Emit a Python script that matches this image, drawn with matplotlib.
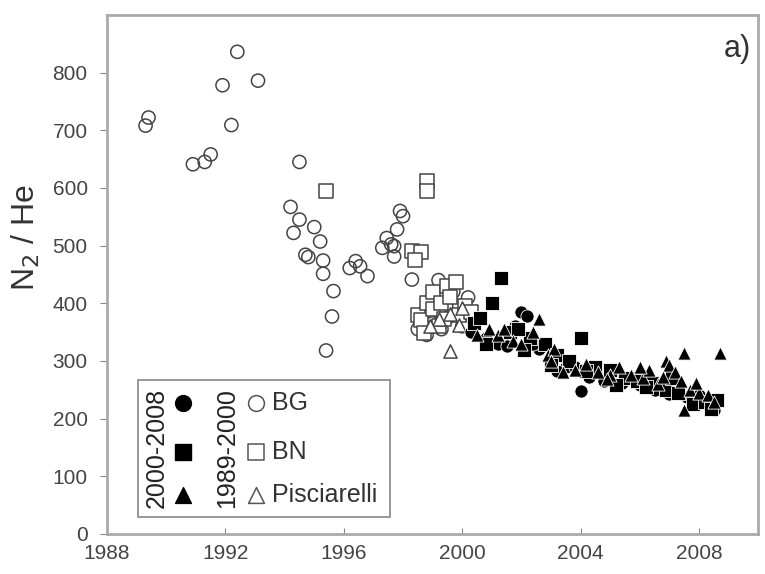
import matplotlib.pyplot as plt
from matplotlib.patches import Rectangle

plt.rcParams['font.family'] = ['Liberation Sans', 'DejaVu Sans']

# 1989-2000 (open markers)
bg_old_x = [1989.3, 1989.4, 1990.9, 1991.3, 1991.5, 1991.9, 1992.2, 1992.4, 1993.1,
            1994.2, 1994.5, 1994.3, 1994.5, 1995.0, 1995.2, 1994.7, 1994.8, 1995.3,
            1995.3, 1995.65, 1995.6, 1995.4, 1996.2, 1996.55, 1996.8, 1996.4,
            1997.9, 1998.0, 1997.8, 1997.45, 1997.3, 1997.7, 1997.7, 1997.6, 1998.3,
            1998.5, 1998.8, 1999.2, 1999.5, 1999.7, 1999.0, 2000.0, 1999.3, 2000.2,
            1998.9, 1999.9]
bg_old_y = [708, 722, 641, 645, 658, 778, 709, 836, 786,
            567, 645, 522, 545, 532, 507, 484, 480, 474,
            451, 421, 377, 318, 461, 464, 447, 473,
            560, 551, 528, 513, 496, 499, 481, 502, 441,
            355, 345, 440, 375, 420, 365, 360, 355, 410,
            380, 395]
bn_old_x = [1995.4, 1998.8, 1998.8, 1998.3, 1998.6, 1998.4,
            1998.5, 1998.6, 1998.8, 1999.0, 1999.0, 1999.2, 1999.3, 1999.5,
            1999.6, 1999.8, 1999.9, 2000.1, 2000.3, 1998.7, 1999.4]
bn_old_y = [595, 612, 595, 490, 488, 475,
            380, 370, 400, 420, 390, 360, 400, 430,
            410, 437, 380, 395, 385, 348, 372]
pis_old_x = [1999.6, 1999.2, 1999.6, 2000.0, 1999.9, 1998.9]
pis_old_y = [317, 372, 382, 392, 362, 360]

# 2000-2008 (filled markers)
bg_new_x = [2000.3, 2000.8, 2001.2, 2001.5, 2002.0, 2002.2, 2002.6, 2003.0, 2003.5,
            2004.0, 2004.3, 2004.8, 2005.4, 2006.0, 2006.5, 2007.0, 2007.6, 2008.2,
            2008.5, 2001.8, 2003.2, 2005.0, 2006.8, 2008.0, 2002.4, 2003.8, 2005.8]
bg_new_y = [350, 340, 330, 325, 385, 378, 320, 300, 290,
            247, 272, 265, 262, 258, 250, 242, 238, 230,
            215, 360, 282, 280, 262, 240, 330, 290, 270]
bn_new_x = [2000.4, 2000.6, 2001.0, 2001.3, 2001.6, 2002.3, 2002.8, 2003.2, 2003.6,
            2004.0, 2004.5, 2005.0, 2005.5, 2005.9, 2006.4, 2006.9, 2007.3, 2007.8,
            2008.2, 2008.4, 2008.6, 2003.0, 2005.2, 2007.1, 2001.9, 2004.2, 2006.2,
            2002.1, 2000.8]
bn_new_y = [365, 375, 400, 444, 350, 340, 330, 310, 300,
            339, 290, 285, 270, 265, 262, 250, 245, 225,
            228, 217, 232, 292, 258, 270, 355, 282, 255,
            318, 330]
pis_new_x = [2000.5, 2000.9, 2001.2, 2001.7, 2002.0, 2002.4, 2002.6, 2002.9, 2003.1,
             2003.4, 2003.8, 2004.2, 2004.6, 2005.0, 2005.3, 2005.7, 2006.1, 2006.3,
             2006.6, 2006.9, 2007.0, 2007.2, 2007.4, 2007.5, 2007.7, 2008.0, 2008.3,
             2008.7, 2007.5, 2001.4, 2003.0, 2004.9, 2006.0, 2006.8, 2007.9, 2008.5]
pis_new_y = [345, 355, 345, 335, 330, 350, 372, 310, 320,
             280, 285, 295, 280, 275, 290, 275, 270, 285,
             260, 300, 292, 280, 265, 215, 250, 245, 240,
             314, 314, 355, 300, 268, 290, 272, 262, 228]

fig = plt.figure(figsize=(7.65, 5.74), dpi=100)
ax = fig.add_axes([0.14, 0.07, 0.851, 0.904])

edge = '#444444'
s = 90
ax.scatter(bg_old_x, bg_old_y, s=s, marker='o', facecolors='none', edgecolors=edge, linewidths=1.1)
ax.scatter(bn_old_x, bn_old_y, s=s, marker='s', facecolors='white', edgecolors=edge, linewidths=1.1)
ax.scatter(pis_old_x, pis_old_y, s=s, marker='^', facecolors='white', edgecolors=edge, linewidths=1.1)
ax.scatter(bg_new_x, bg_new_y, s=s, marker='o', facecolors='black', edgecolors='white', linewidths=0.6)
ax.scatter(bn_new_x, bn_new_y, s=s, marker='s', facecolors='black', edgecolors='white', linewidths=0.6)
ax.scatter(pis_new_x, pis_new_y, s=s, marker='^', facecolors='black', edgecolors='white', linewidths=0.6)

ax.set_xlim(1988, 2010)
ax.set_ylim(0, 900)
ax.set_xticks([1988, 1992, 1996, 2000, 2004, 2008])
ax.set_yticks(range(0, 801, 100))
ax.tick_params(axis='y', direction='out', length=5, pad=9, colors='#888888',
               labelcolor='#444444', labelsize=15)
ax.tick_params(axis='x', direction='in', length=4, pad=7, colors='#888888',
               labelcolor='#444444', labelsize=15)
for sp in ax.spines.values():
    sp.set_color('#aaaaaa')
    sp.set_linewidth(2)
ax.set_ylabel('N$_2$ / He', fontsize=23, color='#333333')
ax.yaxis.set_label_coords(-0.10, 0.57)
ax.text(0.968, 0.934, 'a)', transform=ax.transAxes, fontsize=22, color='#333333',
        ha='center', va='center')

# legend box drawn by hand
ax.add_patch(Rectangle((0.047, 0.033), 0.387, 0.264, transform=ax.transAxes,
                       facecolor='white', edgecolor='#888888', linewidth=1.2, zorder=5))
ax.text(0.077, 0.165, '2000-2008', transform=ax.transAxes, rotation=90, fontsize=18,
        ha='center', va='center', color='#222222', zorder=6)
ax.text(0.184, 0.165, '1989-2000', transform=ax.transAxes, rotation=90, fontsize=18,
        ha='center', va='center', color='#222222', zorder=6)
rows = [0.252, 0.158, 0.075]
for m, r in zip(['o', 's', '^'], rows):
    ax.scatter([0.117], [r], s=130, marker=m, color='black', transform=ax.transAxes, zorder=6,
               clip_on=False)
    ax.scatter([0.228], [r], s=130, marker=m, facecolors='white', edgecolors='#555555',
               linewidths=1.1, transform=ax.transAxes, zorder=6, clip_on=False)
for lab, r in zip(['BG', 'BN', 'Pisciarelli'], rows):
    ax.text(0.254, r, lab, transform=ax.transAxes, fontsize=18, ha='left', va='center',
            color='#333333', zorder=6)

fig.savefig('out.png', dpi=100)
